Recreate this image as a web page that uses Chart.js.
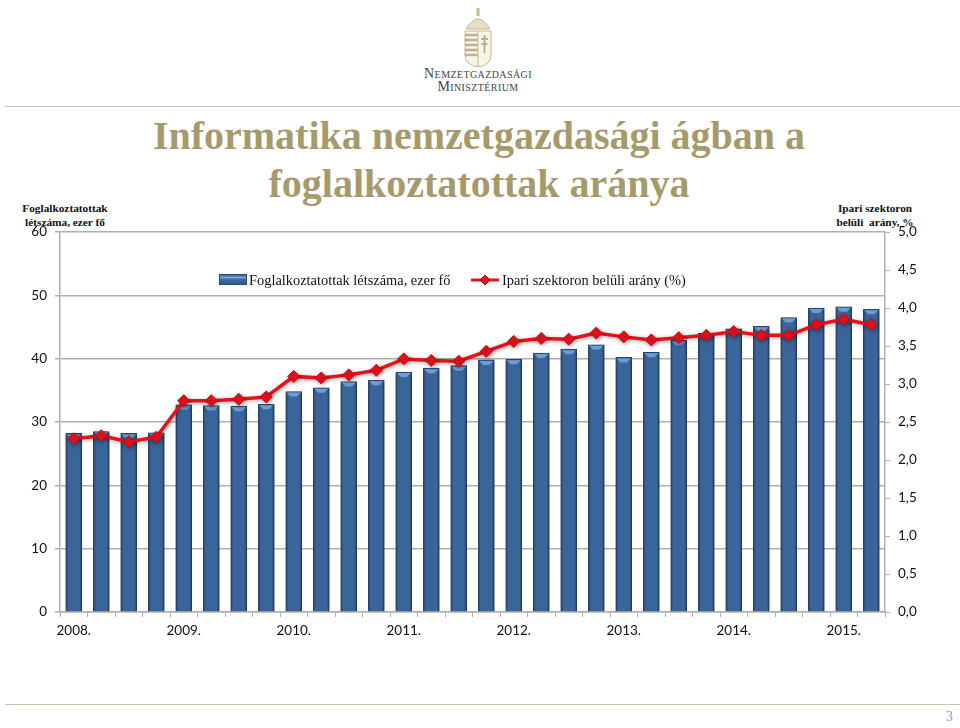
<!DOCTYPE html>
<html lang="hu">
<head>
<meta charset="utf-8">
<title>Informatika nemzetgazdasági ágban</title>
<script src="https://cdn.jsdelivr.net/npm/chart.js@4"></script>
<style>
    html, body { margin: 0; padding: 0; background: #fff; }
    #lap { position: relative; width: 960px; height: 728px; overflow: hidden; }
    #lap canvas { position: absolute; left: 0; top: 0; }
    .szoveg { position: absolute; white-space: nowrap; }
    .cim { left: 0; width: 958px; text-align: center; font: bold 40px "Liberation Serif", serif; color: #a69a6b; }
    .tengely { font: bold 11.3px/14px "Liberation Serif", serif; color: #111; text-align: center; }
    .jelmagyarazat { font: 14.4px "Liberation Serif", serif; color: #111; }
    .logo { left: 380px; width: 196px; text-align: center; font: 14px "Liberation Serif", serif; font-variant: small-caps; color: #444; letter-spacing: .4px; }
    .vonal { position: absolute; height: 1px; background: #c9c4ae; }
</style>
</head>
<body>
<div id="lap">
    <svg class="szoveg" style="left:462px;top:7px" width="32" height="60" viewBox="0 0 32 60">
        <path d="M4 22 Q16 2 28 22 Z" fill="#e6dfc6" stroke="#c4b98f"/>
        <rect x="14.5" y="1" width="3" height="8" fill="#c4b98f"/>
        <path d="M3 24 H29 V48 Q29 58 16 60 Q3 58 3 48 Z" fill="#f7f4ea" stroke="#c4b98f"/>
        <path d="M3 28 H16 M3 33 H16 M3 38 H16 M3 43 H16 M3 48 H16" stroke="#bdb288" stroke-width="2.5"/>
        <path d="M16 24 V60" stroke="#c4b98f"/>
        <path d="M22.5 28 V46 M19 32 H26 M19.5 37 H25.5" stroke="#bdb288" stroke-width="2"/>
    </svg>
    <div class="szoveg logo" style="top:66px">Nemzetgazdasági</div>
    <div class="szoveg logo" style="top:79px">Minisztérium</div>
    <div class="vonal" style="left:5px;right:0;top:106px"></div>
    <div class="szoveg cim" style="top:112px">Informatika nemzetgazdasági ágban a</div>
    <div class="szoveg cim" style="top:160px">foglalkoztatottak aránya</div>
    <div class="szoveg tengely" style="left:15px;width:100px;top:201px">Foglalkoztatottak<br>létszáma, ezer fő</div>
    <div class="szoveg tengely" style="left:825px;width:100px;top:201px">Ipari szektoron<br>belüli&nbsp; arány, %</div>
    <canvas id="grafikon" width="960" height="728"></canvas>
    <svg class="szoveg" style="left:219px;top:274px" width="28" height="12">
        <defs><linearGradient id="oszlopMinta" x1="0" y1="0" x2="0" y2="1">
            <stop offset="0" stop-color="#2f5587"/><stop offset=".3" stop-color="#7ba3d8"/><stop offset=".5" stop-color="#3e6ba3"/><stop offset="1" stop-color="#2f5587"/>
        </linearGradient></defs>
        <rect x=".5" y=".5" width="27" height="10" fill="url(#oszlopMinta)" stroke="#2b4a72"/>
    </svg>
    <div class="szoveg jelmagyarazat" style="left:249px;top:272px">Foglalkoztatottak létszáma, ezer fő</div>
    <svg class="szoveg" style="left:470px;top:273px" width="30" height="14">
        <path d="M1 7 H29" stroke="#e8101a" stroke-width="3"/>
        <path d="M15 2 L20 7 L15 12 L10 7 Z" fill="#e8101a" stroke="#a80d14"/>
    </svg>
    <div class="szoveg jelmagyarazat" style="left:502px;top:272px">Ipari szektoron belüli arány (%)</div>
    <div class="vonal" style="left:5px;right:0;top:704px"></div>
    <div class="szoveg" style="left:946px;top:709px;font:14px 'Liberation Serif',serif;color:#8a9aa8">3</div>
</div>
<script>
// Foglalkoztatottak létszáma és ipari arány negyedévenként
const negyedevek = [
    '2008.', '', '', '',
    '2009.', '', '', '',
    '2010.', '', '', '',
    '2011.', '', '', '',
    '2012.', '', '', '',
    '2013.', '', '', '',
    '2014.', '', '', '',
    '2015.', ''
];
const letszam = [
    28.2, 28.5, 28.2, 28.3,
    32.7, 32.6, 32.5, 32.8,
    34.8, 35.4, 36.4, 36.6,
    37.9, 38.5, 38.9, 39.8,
    39.9, 40.9, 41.5, 42.2,
    40.2, 41.0, 42.9, 44.0,
    44.7, 45.1, 46.5, 48.0,
    48.2, 47.8
];
const aranyok = [
    2.28, 2.32, 2.24, 2.30,
    2.78, 2.78, 2.80, 2.83,
    3.10, 3.08, 3.12, 3.18,
    3.33, 3.31, 3.30, 3.43,
    3.56, 3.60, 3.59, 3.67,
    3.62, 3.58, 3.61, 3.64,
    3.69, 3.64, 3.64, 3.78,
    3.85, 3.78
];
const balTickek = [0, 10, 20, 30, 40, 50, 60];
const jobbTickek = ['0,0', '0,5', '1,0', '1,5', '2,0', '2,5', '3,0', '3,5', '4,0', '4,5', '5,0'];

const tengelySzin = '#afafaf';
const betu = { family: 'Lato, sans-serif', size: 13.5 };

// Árnyék mindkét adatsor alá, és a felső világos perem az oszlopokon
const oszlopDiszites = {
    id: 'oszlopDiszites',
    beforeDatasetDraw(chart) {
        const c = chart.ctx;
        c.save();
        c.shadowColor = 'rgba(0,0,0,0.35)';
        c.shadowBlur = 4;
        c.shadowOffsetX = 1;
        c.shadowOffsetY = 1;
    },
    afterDatasetDraw(chart, args) {
        const c = chart.ctx;
        c.restore();
        if (args.index !== 0) return;
        chart.getDatasetMeta(0).data.forEach(el => {
            const bal = el.x - el.width / 2 + 1;
            const jobb = el.x + el.width / 2 - 1;
            c.fillStyle = '#6f9bd6';
            c.beginPath();
            c.moveTo(bal, el.y + 1);
            c.lineTo(jobb, el.y + 1);
            c.lineTo(jobb - 4, el.y + 5);
            c.lineTo(bal + 4, el.y + 5);
            c.closePath();
            c.fill();
        });
    }
};

function oszlopSzin(ctx) {
    if (ctx.type !== 'data') return '#3a659b';
    const x = ctx.chart.scales.x.getPixelForValue(ctx.dataIndex);
    if (!Number.isFinite(x)) return '#3a659b';   // elrendezés előtt még nincs pozíció
    const g = ctx.chart.ctx.createLinearGradient(x - 8, 0, x + 8, 0);
    g.addColorStop(0, '#24405f');
    g.addColorStop(0.16, '#3a659b');
    g.addColorStop(0.84, '#3a659b');
    g.addColorStop(1, '#24405f');
    return g;
}

new Chart(document.getElementById('grafikon').getContext('2d'), {
    type: 'bar',
    plugins: [oszlopDiszites],
    data: {
        labels: negyedevek,
        datasets: [{
            label: 'Foglalkoztatottak létszáma, ezer fő',
            data: letszam,
            yAxisID: 'y',
            order: 1,
            backgroundColor: oszlopSzin,
            borderColor: '#2b4a72',
            borderWidth: 1,
            barThickness: 16
        }, {
            type: 'line',
            label: 'Ipari szektoron belüli arány (%)',
            data: aranyok,
            yAxisID: 'y2',
            order: 0,
            borderColor: '#e8101a',
            borderWidth: 3.5,
            tension: 0,
            pointStyle: 'rectRot',
            pointRadius: 6,
            pointBackgroundColor: '#e8101a',
            pointBorderColor: '#c20d15',
            pointBorderWidth: 1
        }]
    },
    options: {
        responsive: false,
        animation: false,
        layout: { padding: { top: 232, left: 0, right: 0, bottom: 0 } },
        plugins: { legend: { display: false }, tooltip: { enabled: false } },
        scales: {
            x: {
                afterFit(s) { s.height = 116; },
                border: { color: tengelySzin, width: 1.5 },
                grid: { drawOnChartArea: false, color: tengelySzin, tickLength: 5 },
                ticks: { autoSkip: false, maxRotation: 0, color: '#111', font: betu, padding: 6 }
            },
            y: {
                position: 'left',
                min: 0,
                max: 60,
                afterFit(s) { s.width = 60; },
                afterBuildTicks(s) { s.ticks = balTickek.map(v => ({ value: v })); },
                border: { color: tengelySzin, width: 1.5 },
                grid: { color: tengelySzin, lineWidth: 1.5, tickLength: 5 },
                ticks: { color: '#111', font: betu, padding: 8 }
            },
            y2: {
                position: 'right',
                min: 0,
                max: 5,
                afterFit(s) { s.width = 75; },
                afterBuildTicks(s) { s.ticks = jobbTickek.map((t, i) => ({ value: i * 0.5 })); },
                border: { color: tengelySzin, width: 1.5 },
                grid: { drawOnChartArea: false, color: tengelySzin, tickLength: 5 },
                ticks: {
                    color: '#111',
                    font: betu,
                    padding: 8,
                    callback: (v, i) => jobbTickek[i]
                }
            }
        }
    }
});
</script>
</body>
</html>
